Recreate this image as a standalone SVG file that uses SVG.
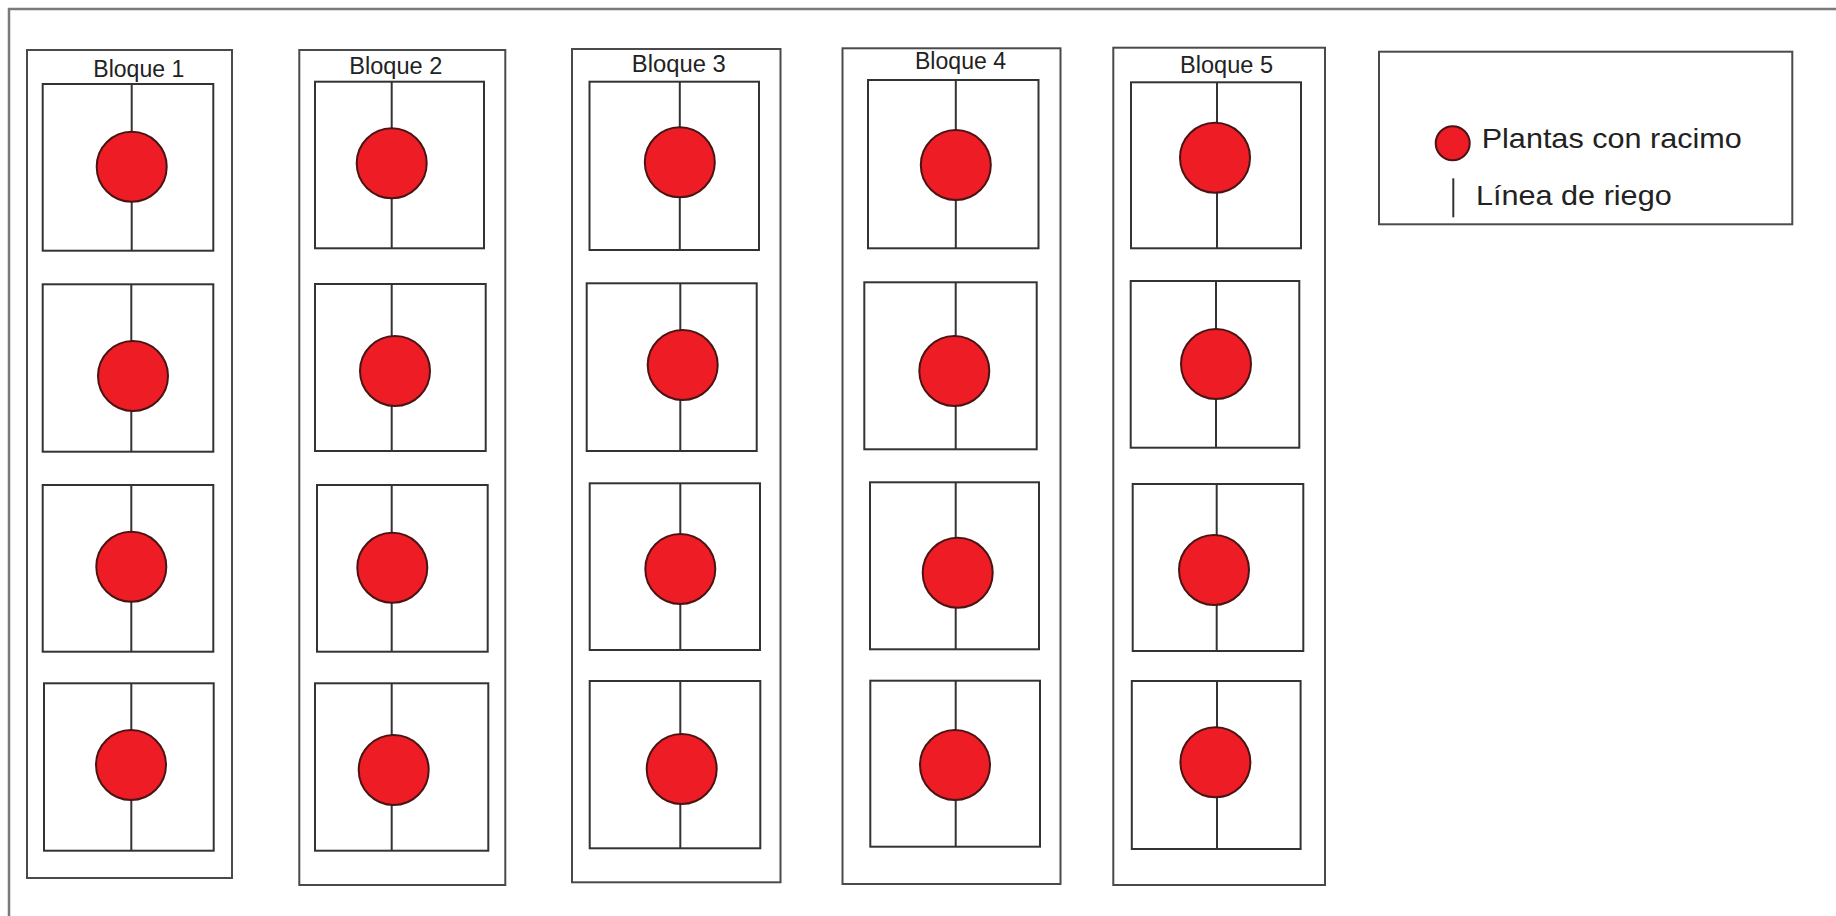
<svg xmlns="http://www.w3.org/2000/svg" width="1836" height="916" viewBox="0 0 1836 916">
<style>
.frame{fill:#fff;stroke:#7a7a7a;stroke-width:2.5}
.block{fill:none;stroke:#4a4a4a;stroke-width:2}
.cell{fill:none;stroke:#333;stroke-width:2}
.riego{stroke:#333;stroke-width:2}
.planta{fill:#ee1c24;stroke:#4a1414;stroke-width:2}
.title{font-family:"Liberation Sans",Arial,sans-serif;font-size:23px;fill:#222}
.leg{font-family:"Liberation Sans",Arial,sans-serif;font-size:28px;fill:#222}
</style>
<rect width="1836" height="916" fill="#fff"/>
<rect class="frame" x="9" y="9" width="1840" height="920"/>

<g id="bloque1">
<rect class="block" x="27" y="50" width="205" height="828"/>
<text class="title" x="93.3" y="76.7" textLength="91" lengthAdjust="spacingAndGlyphs">Bloque 1</text>
<g id="b1c1"><rect class="cell" x="42.7" y="84" width="170.6" height="166.7"/><line class="riego" x1="131.7" y1="84" x2="131.7" y2="250.7"/><circle class="planta" cx="131.7" cy="166.7" r="35"/></g>
<g id="b1c2"><rect class="cell" x="42.7" y="284.3" width="170.6" height="167.4"/><line class="riego" x1="131.3" y1="284.3" x2="131.3" y2="451.7"/><circle class="planta" cx="133" cy="376" r="35"/></g>
<g id="b1c3"><rect class="cell" x="42.7" y="485" width="170.6" height="166.7"/><line class="riego" x1="131.3" y1="485" x2="131.3" y2="651.7"/><circle class="planta" cx="131.3" cy="566.7" r="35"/></g>
<g id="b1c4"><rect class="cell" x="44" y="683.3" width="169.7" height="167.4"/><line class="riego" x1="131.3" y1="683.3" x2="131.3" y2="850.7"/><circle class="planta" cx="131" cy="765" r="35"/></g>
</g>

<g id="bloque2">
<rect class="block" x="299.3" y="50" width="206" height="835"/>
<text class="title" x="349.3" y="74" textLength="93" lengthAdjust="spacingAndGlyphs">Bloque 2</text>
<g id="b2c1"><rect class="cell" x="315" y="81.7" width="169" height="166.6"/><line class="riego" x1="391.7" y1="81.7" x2="391.7" y2="248.3"/><circle class="planta" cx="391.7" cy="163.3" r="35"/></g>
<g id="b2c2"><rect class="cell" x="315" y="284" width="170.7" height="167"/><line class="riego" x1="391.7" y1="284" x2="391.7" y2="451"/><circle class="planta" cx="395" cy="371" r="35"/></g>
<g id="b2c3"><rect class="cell" x="317" y="485" width="170.7" height="166.7"/><line class="riego" x1="391.7" y1="485" x2="391.7" y2="651.7"/><circle class="planta" cx="392.3" cy="567.7" r="35"/></g>
<g id="b2c4"><rect class="cell" x="315" y="683.3" width="173.3" height="167.4"/><line class="riego" x1="391.7" y1="683.3" x2="391.7" y2="850.7"/><circle class="planta" cx="393.7" cy="770" r="35"/></g>
</g>

<g id="bloque3">
<rect class="block" x="572" y="49" width="208.5" height="833.3"/>
<text class="title" x="631.8" y="71.7" textLength="94" lengthAdjust="spacingAndGlyphs">Bloque 3</text>
<g id="b3c1"><rect class="cell" x="589.5" y="81.7" width="169.5" height="168.3"/><line class="riego" x1="679.8" y1="81.7" x2="679.8" y2="250"/><circle class="planta" cx="679.8" cy="162.3" r="35"/></g>
<g id="b3c2"><rect class="cell" x="586.7" y="283.3" width="170" height="167.7"/><line class="riego" x1="680.3" y1="283.3" x2="680.3" y2="451"/><circle class="planta" cx="682.7" cy="365" r="35"/></g>
<g id="b3c3"><rect class="cell" x="589.7" y="483.3" width="170.3" height="166.7"/><line class="riego" x1="680.3" y1="483.3" x2="680.3" y2="650"/><circle class="planta" cx="680.3" cy="569" r="35"/></g>
<g id="b3c4"><rect class="cell" x="589.7" y="681" width="170.6" height="167.3"/><line class="riego" x1="680.3" y1="681" x2="680.3" y2="848.3"/><circle class="planta" cx="681.7" cy="769" r="35"/></g>
</g>

<g id="bloque4">
<rect class="block" x="842.5" y="48.3" width="218" height="835.7"/>
<text class="title" x="915" y="69" textLength="91" lengthAdjust="spacingAndGlyphs">Bloque 4</text>
<g id="b4c1"><rect class="cell" x="868" y="80" width="170.5" height="168.3"/><line class="riego" x1="955.8" y1="80" x2="955.8" y2="248.3"/><circle class="planta" cx="955.8" cy="165" r="35"/></g>
<g id="b4c2"><rect class="cell" x="864.3" y="282.3" width="172.4" height="167"/><line class="riego" x1="955.7" y1="282.3" x2="955.7" y2="449.3"/><circle class="planta" cx="954.3" cy="371" r="35"/></g>
<g id="b4c3"><rect class="cell" x="870" y="482.3" width="169" height="167"/><line class="riego" x1="955.7" y1="482.3" x2="955.7" y2="649.3"/><circle class="planta" cx="957.7" cy="572.7" r="35"/></g>
<g id="b4c4"><rect class="cell" x="870.3" y="680.7" width="169.7" height="166"/><line class="riego" x1="955.7" y1="680.7" x2="955.7" y2="846.7"/><circle class="planta" cx="955" cy="765" r="35"/></g>
</g>

<g id="bloque5">
<rect class="block" x="1113.3" y="47.7" width="211.7" height="837.3"/>
<text class="title" x="1180" y="72.7" textLength="93" lengthAdjust="spacingAndGlyphs">Bloque 5</text>
<g id="b5c1"><rect class="cell" x="1131" y="82.3" width="170" height="166"/><line class="riego" x1="1217" y1="82.3" x2="1217" y2="248.3"/><circle class="planta" cx="1215" cy="157.7" r="35"/></g>
<g id="b5c2"><rect class="cell" x="1130.7" y="281" width="168.6" height="166.7"/><line class="riego" x1="1216" y1="281" x2="1216" y2="447.7"/><circle class="planta" cx="1216" cy="364" r="35"/></g>
<g id="b5c3"><rect class="cell" x="1132.7" y="484" width="170.6" height="167"/><line class="riego" x1="1216.7" y1="484" x2="1216.7" y2="651"/><circle class="planta" cx="1214" cy="570" r="35"/></g>
<g id="b5c4"><rect class="cell" x="1131.8" y="681" width="168.8" height="168"/><line class="riego" x1="1217" y1="681" x2="1217" y2="849"/><circle class="planta" cx="1215.4" cy="762.3" r="35"/></g>
</g>

<g id="leyenda">
<rect class="block" x="1379" y="51.7" width="413.3" height="172.6"/>
<circle class="planta" cx="1452.7" cy="143.3" r="17"/>
<text class="leg" x="1481.7" y="148.3" textLength="260" lengthAdjust="spacingAndGlyphs">Plantas con racimo</text>
<line class="riego" x1="1453.3" y1="178.3" x2="1453.3" y2="217.3"/>
<text class="leg" x="1476" y="205" textLength="195.7" lengthAdjust="spacingAndGlyphs">Línea de riego</text>
</g>
</svg>
